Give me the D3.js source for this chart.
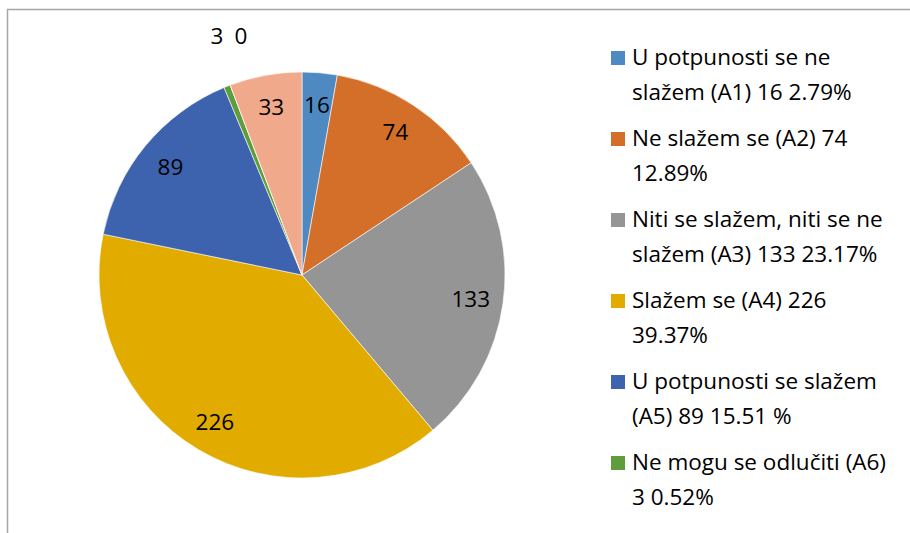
<!DOCTYPE html>
<html>
<head>
<meta charset="utf-8">
<script src="https://cdn.jsdelivr.net/npm/d3@7"></script>
<style>
  body { margin: 0; background: #fff; }
  text { font-family: "Open Sans", "Liberation Sans", Arial, sans-serif; fill: #000; }
</style>
</head>
<body>
<svg class="pie" width="910" height="533"></svg>
<script>
// slice data, clockwise from 12 o'clock
var sliceKeys = ['A1', 'A2', 'A3', 'A4', 'A5', 'A6', 'A7', 'A8'];
var sliceValues = [16, 74, 133, 226, 89, 3, 0, 33];
var sliceColors = ['#4e8ac1', '#d46f2a', '#959595', '#e2ab00', '#3d63ae', '#5f9c3b', '#2a4f8a', '#f0a98b'];
// labels that sit outside the pie
var outsideKeys = ['A6', 'A7'];

// legend only lists the first six
var legendKeys = ['A1', 'A2', 'A3', 'A4', 'A5', 'A6'];
var legendLines = [
  ['U potpunosti se ne', 'slažem (A1) 16 2.79%'],
  ['Ne slažem se (A2) 74', '12.89%'],
  ['Niti se slažem, niti se ne', 'slažem (A3) 133 23.17%'],
  ['Slažem se (A4) 226', '39.37%'],
  ['U potpunosti se slažem', '(A5) 89 15.51 %'],
  ['Ne mogu se odlučiti (A6)', '3 0.52%']
];

var W = 910, H = 533;
var cx = 302, cy = 275, r = 203;

var svg = d3.select('.pie');

// chart frame (runs off the right and bottom of the picture)
svg.append('rect')
  .attr('x', 7.5).attr('y', 9.5)
  .attr('width', W + 20).attr('height', H + 20)
  .attr('fill', 'none').attr('stroke', '#a6a6a6').attr('stroke-width', 1.5);

var color = d3.scaleOrdinal().domain(sliceKeys).range(sliceColors);

var pie = d3.pie().sort(null).value(function(d) { return d.v; });
var data = sliceKeys.map(function(k, i) { return { k: k, v: sliceValues[i] }; });
var arcs = pie(data);

var arc = d3.arc().innerRadius(0).outerRadius(r);
var labelArc = d3.arc().innerRadius(r * 0.84).outerRadius(r * 0.84);

var g = svg.append('g').attr('transform', 'translate(' + cx + ',' + cy + ')');

g.selectAll('path')
  .data(arcs)
  .enter().append('path')
  .attr('d', arc)
  .attr('fill', function(d) { return color(d.data.k); })
  .attr('stroke', '#fff').attr('stroke-width', 0.6);

// inside labels
g.selectAll('text.inside')
  .data(arcs.filter(function(d) { return outsideKeys.indexOf(d.data.k) < 0; }))
  .enter().append('text')
  .attr('class', 'inside')
  .attr('transform', function(d) { return 'translate(' + labelArc.centroid(d) + ')'; })
  .attr('text-anchor', 'middle')
  .attr('dy', '0.36em')
  .style('font-size', '22.5px')
  .text(function(d) { return d.data.v; });

// the two tiny slices get their numbers just above the rim
var outerY = -r - 36;
g.selectAll('text.outside')
  .data(arcs.filter(function(d) { return outsideKeys.indexOf(d.data.k) >= 0; }))
  .enter().append('text')
  .attr('class', 'outside')
  .attr('x', function(d, i) { return -85 + i * 24; })
  .attr('y', outerY)
  .attr('text-anchor', 'middle')
  .attr('dy', '0.36em')
  .style('font-size', '22.5px')
  .text(function(d) { return d.data.v; });

// legend
var legend = svg.append('g').attr('transform', 'translate(611,57)');
var item = legend.selectAll('g')
  .data(legendKeys)
  .enter().append('g')
  .attr('transform', function(d, i) { return 'translate(0,' + (i * 81) + ')'; });

item.append('rect')
  .attr('x', 0).attr('y', -6)
  .attr('width', 14).attr('height', 14)
  .attr('fill', function(d) { return color(d); });

item.each(function(d, i) {
  var t = d3.select(this).append('text')
    .attr('x', 21)
    .style('font-size', '22.5px');
  legendLines[i].forEach(function(line, j) {
    t.append('tspan')
      .attr('x', 21)
      .attr('y', j * 35)
      .attr('dy', '0.36em')
      .text(line);
  });
});
</script>
</body>
</html>
